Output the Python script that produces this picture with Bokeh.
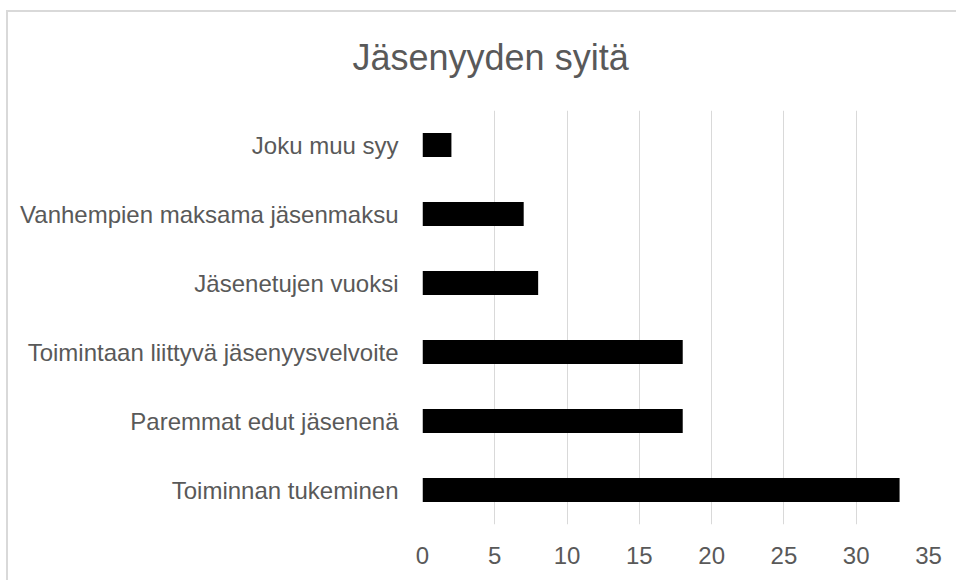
from bokeh.plotting import figure
from bokeh.models import ColumnDataSource, FactorRange, Range1d, FixedTicker
from bokeh.embed import file_html
from bokeh.resources import INLINE

title_text = "Jäsenyyden syitä"
categories = ["Toiminnan tukeminen", "Paremmat edut jäsenenä",
              "Toimintaan liittyvä jäsenyysvelvoite", "Jäsenetujen vuoksi",
              "Vanhempien maksama jäsenmaksu", "Joku muu syy"]
values = [33, 18, 18, 8, 7, 2]
x_ticks = [0, 5, 10, 15, 20, 25, 30, 35]

FONT = "Liberation Sans"
TXT = "#595959"
EDGE = "#d9d9d9"

src = ColumnDataSource(dict(cat=categories, val=values))

p = figure(width=956, height=580, output_backend="svg", toolbar_location=None,
           y_range=FactorRange(factors=categories, range_padding=0),
           x_range=Range1d(x_ticks[0], x_ticks[-1]),
           min_border_left=422, min_border_right=28, min_border_top=110,
           min_border_bottom=56, outline_line_color=None,
           background_fill_alpha=0, border_fill_alpha=0)
# chart-area edge (top and left), painted behind the transparent canvas
p.styles = {
    "background": (f"linear-gradient({EDGE},{EDGE}) 6px 10px / 2px 100% no-repeat, "
                   f"linear-gradient({EDGE},{EDGE}) 6px 10px / 100% 2px no-repeat, white"),
}

p.hbar(y="cat", right="val", left=0, height=0.347, source=src,
       fill_color="black", line_color=None)

p.title.text = title_text
p.title.text_font = FONT
p.title.text_font_size = "36px"
p.title.text_font_style = "normal"
p.title.text_color = TXT
p.title.align = "left"
p.title.vertical_align = "middle"
p.title.offset = -70
p.title.standoff = 64

p.xaxis.ticker = FixedTicker(ticks=x_ticks)
for ax in (p.xaxis, p.yaxis):
    ax.axis_line_color = None
    ax.major_tick_line_color = None
    ax.minor_tick_line_color = None
    ax.major_tick_out = 0
    ax.major_tick_in = 0
    ax.major_label_text_font = FONT
    ax.major_label_text_font_size = "24px"
    ax.major_label_text_color = TXT
p.xaxis.major_label_standoff = 22
p.yaxis.major_label_standoff = 24

p.xgrid.grid_line_color = EDGE
p.xgrid.grid_line_width = 1
p.ygrid.grid_line_color = None

open("out.html", "w").write(file_html(p, INLINE))
